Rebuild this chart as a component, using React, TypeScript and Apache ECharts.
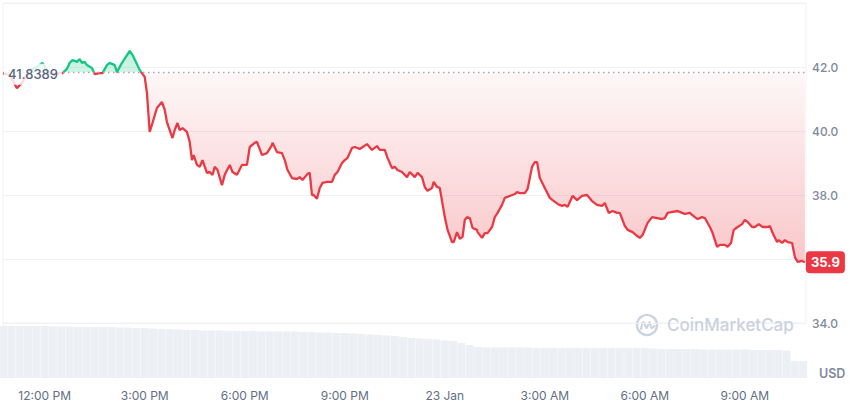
import React, { useEffect, useRef } from "react";
import * as echarts from "echarts";

// ---------- data ----------
// time is expressed in minutes since the first sample (10:45 AM, 22 Jan)
const AXIS_SPAN_MIN = 1445;
const BASELINE = 41.8389;

const minutesFromStart = [
  0, 12, 25, 34, 48, 61, 71, 80, 93, 102, 107, 115, 120, 125, 133, 138, 142, 147, 151, 160,
  165, 174, 179, 187, 192, 201, 205, 214, 228, 233, 246, 250, 255, 259, 264, 269, 277, 286, 291, 295,
  300, 305, 309, 314, 318, 323, 331, 336, 340, 343, 349, 354, 359, 367, 372, 377, 381, 386, 394, 399,
  408, 413, 421, 430, 439, 444, 453, 457, 466, 475, 484, 485, 493, 502, 507, 512, 520, 529, 534, 539,
  548, 552, 556, 559, 565, 570, 575, 583, 592, 597, 602, 610, 615, 620, 628, 633, 642, 655, 664, 673,
  678, 687, 692, 700, 705, 710, 718, 727, 732, 741, 746, 754, 759, 764, 772, 775, 781, 786, 795, 800,
  808, 811, 817, 822, 827, 831, 835, 840, 845, 853, 854, 862, 867, 872, 880, 885, 890, 898, 903, 912,
  921, 925, 930, 939, 944, 952, 957, 961, 966, 975, 984, 989, 998, 1006, 1011, 1016, 1025, 1033, 1042, 1051,
  1060, 1069, 1078, 1083, 1090, 1097, 1105, 1110, 1119, 1124, 1133, 1141, 1146, 1151, 1160, 1168, 1177, 1186, 1191, 1196,
  1205, 1214, 1222, 1227, 1236, 1240, 1245, 1250, 1258, 1263, 1272, 1277, 1285, 1290, 1299, 1304, 1310, 1315, 1322, 1330,
  1335, 1340, 1348, 1353, 1360, 1367, 1375, 1380, 1385, 1393, 1396, 1402, 1407, 1412, 1420, 1425, 1430, 1438, 1443,
];

const prices = [
  41.81, 41.75, 41.34, 41.5, 41.91, 42.0, 42.13, 41.84, 41.75, 41.81, 41.81, 41.94, 42.13, 42.22, 42.16, 42.25, 42.13, 42.16, 42.06, 41.97,
  41.78, 41.81, 41.81, 42.06, 42.13, 42.06, 41.84, 42.13, 42.5, 42.38, 41.91, 41.81, 41.69, 41.19, 39.97, 40.25, 40.72, 40.91, 40.66, 40.28,
  40.03, 39.78, 40.03, 40.25, 40.03, 40.09, 39.97, 39.66, 39.09, 39.25, 38.94, 38.88, 39.09, 38.69, 38.72, 38.63, 38.88, 38.78, 38.31, 38.63,
  38.94, 38.72, 38.63, 38.94, 38.94, 39.5, 39.63, 39.66, 39.25, 39.31, 39.56, 39.63, 39.34, 39.31, 39.09, 38.78, 38.53, 38.5, 38.56, 38.47,
  38.66, 38.69, 38.0, 38.0, 37.88, 38.22, 38.38, 38.41, 38.41, 38.63, 38.72, 39.0, 39.09, 39.16, 39.47, 39.5, 39.44, 39.59, 39.41, 39.53,
  39.41, 39.41, 39.16, 38.84, 38.88, 38.78, 38.72, 38.56, 38.72, 38.56, 38.69, 38.56, 38.25, 38.13, 38.22, 38.41, 38.25, 38.22, 37.31, 36.91,
  36.53, 36.53, 36.84, 36.63, 36.69, 37.22, 37.31, 37.28, 36.97, 36.91, 36.84, 36.66, 36.81, 36.81, 37.0, 37.31, 37.44, 37.69, 37.91, 37.97,
  38.03, 38.09, 38.06, 38.06, 38.19, 38.88, 39.03, 39.03, 38.53, 38.22, 37.91, 37.84, 37.72, 37.66, 37.69, 37.63, 37.97, 37.84, 37.97, 38.0,
  37.81, 37.69, 37.66, 37.75, 37.44, 37.5, 37.44, 37.44, 37.03, 36.91, 36.84, 36.72, 36.66, 36.75, 37.13, 37.31, 37.28, 37.25, 37.28, 37.44,
  37.47, 37.5, 37.44, 37.41, 37.44, 37.38, 37.31, 37.25, 37.31, 37.28, 37.0, 36.81, 36.38, 36.44, 36.44, 36.38, 36.5, 36.91, 37.0, 37.09,
  37.22, 37.16, 37.0, 37.0, 37.09, 37.0, 37.0, 37.03, 36.81, 36.53, 36.59, 36.5, 36.59, 36.53, 36.5, 36.06, 35.91, 35.94, 35.9,
];

const volumeStepMin = 15;
const volumes = [
  52, 52, 52, 52, 52, 52,
  51.5, 51.5, 51.5, 51, 51, 51,
  51, 51, 50.5, 50.5, 50, 50,
  49.5, 49, 49, 48.5, 48, 48,
  47.5, 47.5, 47.5, 47, 47, 47,
  47, 46.5, 46.5, 46.5, 46.5, 46.5,
  46, 46, 45.5, 45.5, 45, 45,
  44.5, 44, 43.5, 43, 42.5, 42,
  41, 40, 39.5, 39, 38.5,
  37.5, 37, 35, 33, 31,
  30.5, 30.5, 30.5, 30.5, 30.5, 30.5, 30, 30, 30, 30, 30, 30, 30, 30, 30, 30, 30, 30, 30, 30, 29.5,
  29, 29, 29, 29, 29, 28.5, 28.5, 28.5, 28.5, 28.5, 28.5, 28, 28, 28, 28, 27.5,
  17, 17,
];

const xTickMinutes = [75, 255, 435, 615, 795, 975, 1155, 1335];
const xTickLabels = ["12:00 PM", "3:00 PM", "6:00 PM", "9:00 PM", "23 Jan", "3:00 AM", "6:00 AM", "9:00 AM"];

const Y_MIN = 34;
const Y_MAX = 44;
const Y_STEP = 2;
const hiddenYLabels = [36, 44];

// ---------- layout / style ----------
const GRID_LEFT = 3;
const GRID_RIGHT = 44;
const PRICE_TOP = 3;
const PRICE_HEIGHT = 320;
const VOL_TOP = 323;
const VOL_HEIGHT = 55;
const VOL_MAX = 55;

const GREEN = "#16c784";
const RED = "#ea3943";
const GRID_COLOR = "#eff2f5";
const FONT = "Inter, 'Noto Sans', sans-serif";

export default function App() {
  const ref = useRef<HTMLDivElement>(null);

  useEffect(() => {
    if (!ref.current) return;
    const chart = echarts.init(ref.current, undefined, { renderer: "svg" });

    const priceData = minutesFromStart.map((m, i) => [m, prices[i]]);
    const volData = volumes.map((v, i) => [i * volumeStepMin, v]);

    const baselineY = PRICE_TOP + ((Y_MAX - BASELINE) / (Y_MAX - Y_MIN)) * PRICE_HEIGHT;
    const off = (baselineY - PRICE_TOP) / PRICE_HEIGHT;
    const y0 = PRICE_TOP;
    const y1 = PRICE_TOP + PRICE_HEIGHT;

    const lineGrad = new echarts.graphic.LinearGradient(
      0, y0, 0, y1,
      [
        { offset: 0, color: GREEN },
        { offset: off, color: GREEN },
        { offset: off, color: RED },
        { offset: 1, color: RED },
      ],
      true
    );
    const areaGrad = new echarts.graphic.LinearGradient(
      0, y0, 0, y1,
      [
        { offset: 0, color: "rgba(22,199,132,0.4)" },
        { offset: off, color: "rgba(22,199,132,0.2)" },
        { offset: off, color: "rgba(234,57,67,0.04)" },
        { offset: 0.8, color: "rgba(234,57,67,0.28)" },
        { offset: 1, color: "rgba(234,57,67,0.32)" },
      ],
      true
    );

    chart.setOption({
      animation: false,
      textStyle: { fontFamily: FONT },
      grid: [
        {
          left: GRID_LEFT, right: GRID_RIGHT, top: PRICE_TOP, height: PRICE_HEIGHT,
          show: true, borderColor: GRID_COLOR, borderWidth: 1, backgroundColor: "transparent",
        },
        { left: GRID_LEFT, right: GRID_RIGHT, top: VOL_TOP, height: VOL_HEIGHT },
      ],
      xAxis: [
        {
          type: "value", gridIndex: 0, min: 0, max: AXIS_SPAN_MIN,
          axisLabel: { show: false }, axisLine: { show: false }, axisTick: { show: false },
          splitLine: { show: false },
        },
        {
          type: "value", gridIndex: 1, min: 0, max: AXIS_SPAN_MIN,
          axisLine: { show: false }, axisTick: { show: false }, splitLine: { show: false },
          axisLabel: {
            customValues: xTickMinutes,
            color: "#616e85",
            fontSize: 12,
            fontFamily: FONT,
            margin: 11,
            formatter: (val: number) => {
              const idx = xTickMinutes.indexOf(Math.round(val));
              return idx >= 0 ? xTickLabels[idx] : "";
            },
          },
        },
      ],
      yAxis: [
        {
          type: "value", gridIndex: 0, position: "right", min: Y_MIN, max: Y_MAX, interval: Y_STEP,
          axisLine: { show: false }, axisTick: { show: false },
          splitLine: { show: true, lineStyle: { color: GRID_COLOR, width: 1 } },
          axisLabel: {
            color: "#808a9d", fontSize: 12, fontWeight: 500, fontFamily: FONT, margin: 6,
            formatter: (v: number) => (hiddenYLabels.includes(v) ? "" : v.toFixed(1)),
          },
        },
        {
          type: "value", gridIndex: 1, position: "right", min: 0, max: VOL_MAX,
          axisLine: { show: true, lineStyle: { color: GRID_COLOR } },
          axisTick: { show: false }, axisLabel: { show: false }, splitLine: { show: false },
        },
      ],
      series: [
        {
          type: "bar",
          xAxisIndex: 1,
          yAxisIndex: 1,
          data: volData,
          barWidth: 8,
          itemStyle: { color: "#eceff3" },
          silent: true,
          z: 1,
        },
        {
          type: "line",
          xAxisIndex: 0,
          yAxisIndex: 0,
          data: priceData,
          showSymbol: false,
          symbol: "none",
          lineStyle: { color: lineGrad, width: 2.3 },
          itemStyle: { color: RED },
          areaStyle: { color: areaGrad, origin: BASELINE, opacity: 1 },
          endLabel: {
            show: true,
            formatter: (p: any) => Number(p.value[1]).toFixed(1),
            color: "#fff",
            backgroundColor: RED,
            borderRadius: 4,
            padding: [5, 5, 4, 5],
            fontSize: 13,
            fontWeight: "bold",
            fontFamily: FONT,
            distance: 1,
          },
          markLine: {
            silent: true,
            symbol: ["none", "none"],
            label: { show: false },
            lineStyle: { type: [1.5, 3.5], color: "#9ea8bb", width: 1.4 },
            data: [{ yAxis: BASELINE }],
          },
          z: 3,
        },
      ],
      graphic: [
        {
          type: "text",
          x: 4,
          y: baselineY + 2,
          z: 100,
          style: {
            text: BASELINE.toString(),
            fill: "#58667e",
            fontSize: 13,
            fontWeight: 500,
            fontFamily: FONT,
            verticalAlign: "middle",
            backgroundColor: "rgba(255,255,255,0.82)",
            padding: [4, 4],
          },
        },
        {
          type: "text",
          x: 819,
          y: 373,
          style: {
            text: "USD",
            fill: "#808a9d",
            fontSize: 12.5,
            fontWeight: 600,
            fontFamily: FONT,
            verticalAlign: "middle",
          },
        },
        {
          type: "group",
          x: 647,
          y: 325,
          z: 50,
          children: [
            {
              type: "circle",
              shape: { cx: 0, cy: 0, r: 10 },
              style: { fill: "none", stroke: "#cdd4e0", lineWidth: 2.4 },
            },
            {
              type: "polyline",
              shape: { points: [[-6, 4], [-3.5, -3], [-0.5, 3], [2.5, -3], [4.5, 3], [7.5, 1]], smooth: 0.35 },
              style: { fill: "none", stroke: "#cdd4e0", lineWidth: 2.2, lineCap: "round" },
            },
          ],
        },
        {
          type: "text",
          x: 667,
          y: 325,
          z: 50,
          style: {
            text: "CoinMarketCap",
            fill: "#cbd2de",
            fontSize: 17,
            fontWeight: 500,
            fontFamily: FONT,
            verticalAlign: "middle",
          },
        },
      ],
    });

    return () => chart.dispose();
  }, []);

  return (
    <div
      ref={ref}
      style={{ position: "fixed", left: 0, top: 0, width: 850, height: 404, background: "#fff" }}
    />
  );
}
